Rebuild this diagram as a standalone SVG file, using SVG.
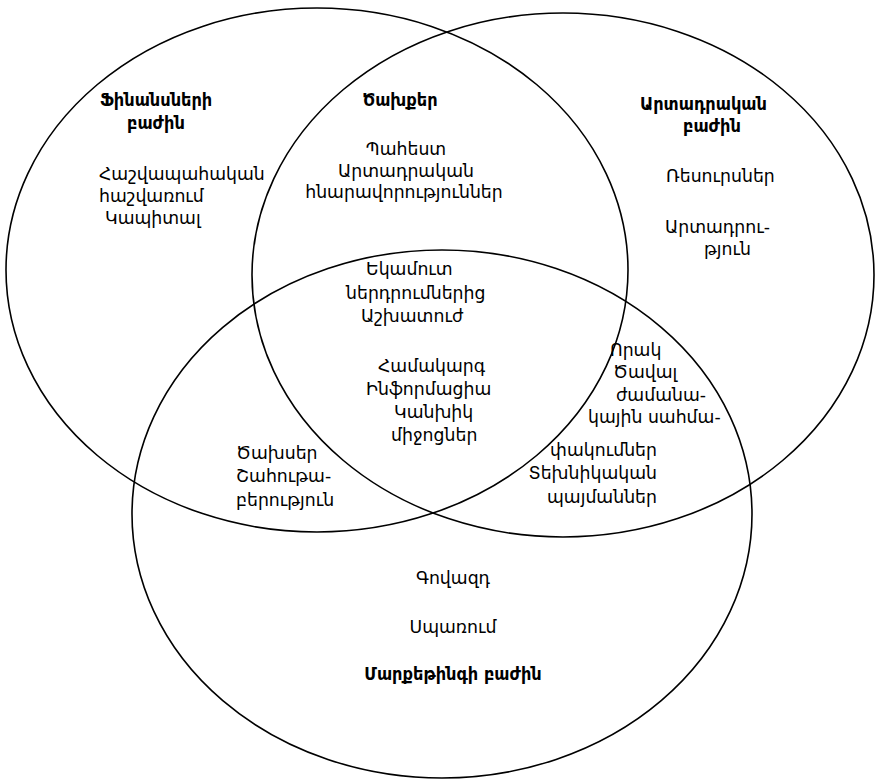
<svg xmlns="http://www.w3.org/2000/svg" width="877" height="780" viewBox="0 0 877 780">
<style>
.c{fill:none;stroke:#000;stroke-width:1.6}
text{font-family:"DejaVu Sans","Noto Sans",sans-serif;font-size:17.3px;fill:#000}
.b{font-family:"DejaVu Sans Condensed","DejaVu Sans",sans-serif;font-weight:bold;font-size:18px}
.m{text-anchor:middle}
.e{text-anchor:end}
</style>
<rect width="877" height="780" fill="#fff"/>
<g id="connectors"></g>
<g id="finance">
<ellipse class="c" cx="317" cy="270" rx="311" ry="262"/>
<text class="b" x="100" y="106">Ֆինանսների</text>
<text class="b" x="127" y="129">բաժին</text>
<text x="99" y="180">Հաշվապահական</text>
<text x="99" y="202">հաշվառում</text>
<text x="105" y="224">Կապիտալ</text>
</g>
<g id="production">
<ellipse class="c" cx="563" cy="275" rx="311" ry="262"/>
<text class="b" x="640" y="110">Արտադրական</text>
<text class="b" x="683" y="132">բաժին</text>
<text x="666" y="182">Ռեսուրսներ</text>
<text x="665" y="233">Արտադրու-</text>
<text x="704" y="255">թյուն</text>
</g>
<g id="marketing">
<ellipse class="c" cx="442" cy="514" rx="310" ry="264"/>
<text class="m" x="453" y="584">Գովազդ</text>
<text class="m" x="453" y="633">Սպառում</text>
<text class="b m" x="453" y="680">Մարքեթինգի բաժին</text>
</g>
<g id="fin-prod">
<text class="b m" x="400" y="106">Ծախքեր</text>
<text class="m" x="406" y="155">Պահեստ</text>
<text class="m" x="406" y="177">Արտադրական</text>
<text class="m" x="404" y="198">հնարավորություններ</text>
</g>
<g id="center">
<text x="366" y="275">Եկամուտ</text>
<text x="346" y="299">ներդրումներից</text>
<text x="361" y="322">Աշխատուժ</text>
<text x="378" y="372">Համակարգ</text>
<text x="366" y="395">Ինֆորմացիա</text>
<text x="394" y="418">Կանխիկ</text>
<text x="391" y="441">միջոցներ</text>
</g>
<g id="prod-mkt">
<text x="610" y="356">Որակ</text>
<text x="613" y="378">Ծավալ</text>
<text x="616" y="401">ժամանա-</text>
<text x="588" y="423">կային սահմա-</text>
<text class="e" x="657" y="456">փակումներ</text>
<text class="e" x="657" y="479">Տեխնիկական</text>
<text class="e" x="657" y="503">պայմաններ</text>
</g>
<g id="fin-mkt">
<text x="236" y="459">Ծախսեր</text>
<text x="236" y="482">Շահութա-</text>
<text x="236" y="506">բերություն</text>
</g>
</svg>
